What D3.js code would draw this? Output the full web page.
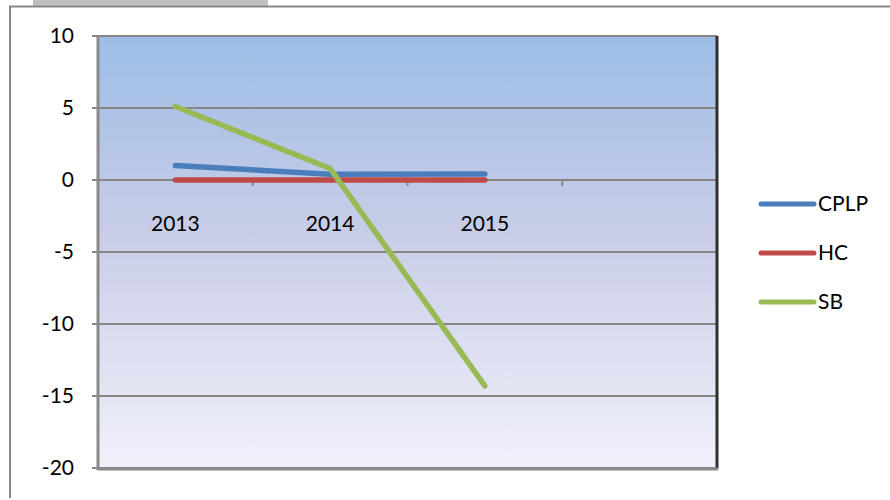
<!DOCTYPE html>
<html>
<head>
<meta charset="UTF-8">
<script src="https://cdn.jsdelivr.net/npm/d3@7"></script>
<style>
  body { margin: 0; background: #fff; }
  text { font-family: Lato, "Open Sans", sans-serif; font-size: 21px; fill: #000; }
</style>
</head>
<body>
<svg id="chart" width="890" height="500"></svg>
<script>
var categories = ["2013", "2014", "2015", ""];
var seriesNames = ["CPLP", "HC", "SB"];
var cplp = [1.0, 0.4, 0.42];
var hc = [0, 0, 0];
var sb = [5.1, 0.8, -14.3];
var yTicks = [10, 5, 0, -5, -10, -15, -20];
var colors = ["#4a7ebb", "#be4b48", "#98b954"];

var svg = d3.select("#chart");
var plotL = 98, plotR = 717, plotT = 36, plotB = 468;

// outer frame + cut title tab
svg.append("rect").attr("x", 33).attr("y", -2).attr("width", 235).attr("height", 8).attr("fill", "#c0c0c0");
svg.append("path").attr("d", "M10,498 V6.5 H890").attr("fill", "none").attr("stroke", "#888").attr("stroke-width", 2);

var defs = svg.append("defs");
var grad = defs.append("linearGradient").attr("id", "bg").attr("x1", 0).attr("y1", 0).attr("x2", 0).attr("y2", 1);
grad.append("stop").attr("offset", "0%").attr("stop-color", "#9dbde6");
grad.append("stop").attr("offset", "45%").attr("stop-color", "#c8cde7");
grad.append("stop").attr("offset", "100%").attr("stop-color", "#f1f1fb");

var x = d3.scaleBand().domain(categories).range([plotL, plotR]).padding(0);
var y = d3.scaleLinear().domain([-20, 10]).range([plotB, plotT]);
var cx = function (c) { return x(c) + x.bandwidth() / 2; };

svg.append("rect").attr("x", plotL).attr("y", plotT).attr("width", plotR - plotL).attr("height", plotB - plotT)
  .attr("fill", "url(#bg)");

// gridlines
svg.selectAll(".grid").data(yTicks).enter().append("line")
  .attr("x1", plotL - 6).attr("x2", plotR).attr("y1", function (d) { return y(d); }).attr("y2", function (d) { return y(d); })
  .attr("stroke", "#878787").attr("stroke-width", 2);

// plot borders
svg.append("line").attr("x1", plotL).attr("x2", plotL).attr("y1", plotT).attr("y2", plotB + 2).attr("stroke", "#8a8a8a").attr("stroke-width", 3);
svg.append("line").attr("x1", plotR).attr("x2", plotR).attr("y1", plotT).attr("y2", plotB + 1).attr("stroke", "#2f2f2f").attr("stroke-width", 3);
svg.append("line").attr("x1", plotL).attr("x2", plotR + 1).attr("y1", plotB + 1).attr("y2", plotB + 1).attr("stroke", "#8a8a8a").attr("stroke-width", 3);

// y labels
svg.selectAll(".yl").data(yTicks).enter().append("text")
  .attr("x", 74).attr("y", function (d) { return y(d) + 7; }).attr("text-anchor", "end")
  .text(function (d) { return d; });

// x ticks along zero line
svg.selectAll(".xt").data(categories.slice(1)).enter().append("line")
  .attr("x1", function (c) { return x(c); }).attr("x2", function (c) { return x(c); })
  .attr("y1", y(0)).attr("y2", y(0) + 6).attr("stroke", "#878787").attr("stroke-width", 2);

// x labels
svg.selectAll(".xl").data(categories.filter(function (c) { return c; })).enter().append("text")
  .attr("x", cx).attr("y", 231).attr("text-anchor", "middle").text(function (c) { return c; });

// series
var line = d3.line().x(function (d, i) { return cx(categories[i]); }).y(function (d) { return y(d); });
var series = [cplp, hc, sb];
svg.selectAll(".series").data(series).enter().append("path")
  .attr("d", line).attr("fill", "none")
  .attr("stroke", function (d, i) { return colors[i]; })
  .attr("stroke-width", 5.5).attr("stroke-linecap", "round").attr("stroke-linejoin", "miter");

// legend
var lg = svg.selectAll(".lg").data(seriesNames).enter().append("g")
  .attr("transform", function (d, i) { return "translate(761," + (204 + i * 49) + ")"; });
lg.append("line").attr("x1", 0).attr("x2", 53).attr("stroke", function (d, i) { return colors[i]; })
  .attr("stroke-width", 5).attr("stroke-linecap", "round");
lg.append("text").attr("x", 57).attr("y", 7).text(function (d) { return d; });
</script>
</body>
</html>
